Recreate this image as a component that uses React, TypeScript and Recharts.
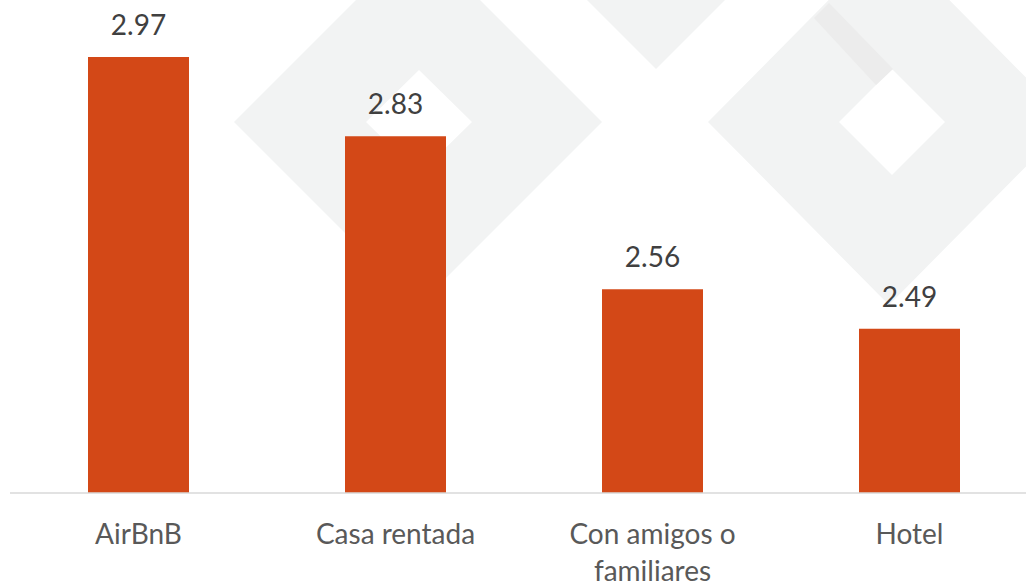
import { BarChart, Bar, XAxis, YAxis, LabelList } from 'recharts';

const categories = ['AirBnB', 'Casa rentada', 'Con amigos o familiares', 'Hotel'];
const values = [2.97, 2.83, 2.56, 2.49];
const yDomain: [number, number] = [2.2, 3.0];

const data = categories.map((name, i) => ({ name, value: values[i] }));

const FONT = 'Lato, "Open Sans", sans-serif';

// split a category into lines of at most ~14 chars
function wrap(label: string, max = 14) {
  const lines: string[] = [];
  let cur = '';
  for (const w of label.split(' ')) {
    const next = cur ? cur + ' ' + w : w;
    if (next.length > max && cur) {
      lines.push(cur);
      cur = w;
    } else {
      cur = next;
    }
  }
  if (cur) lines.push(cur);
  return lines;
}

function CategoryTick(props: any) {
  const { x, payload } = props;
  const lines = wrap(payload.value);
  return (
    <text x={x} y={544} textAnchor="middle" fill="#595959" fontSize={28} fontFamily={FONT}>
      {lines.map((l, i) => (
        <tspan key={i} x={x} dy={i === 0 ? 0 : 37}>
          {l}
        </tspan>
      ))}
    </text>
  );
}

function diamond(cx: number, cy: number, hw: number, hh: number) {
  return `M${cx - hw},${cy} L${cx},${cy - hh} L${cx + hw},${cy} L${cx},${cy + hh} Z`;
}

function Watermark() {
  return (
    <svg width={1026} height={586} style={{ position: 'absolute', left: 0, top: 0 }}>
      <path
        d={diamond(418, 122, 184, 184) + ' ' + diamond(419, 122, 53, 52)}
        fill="#f2f3f3"
        fillRule="evenodd"
      />
      <path d={diamond(656, -115, 184, 184)} fill="#f2f3f3" />
      <path
        d={diamond(889, 122, 181, 183) + ' ' + diamond(892, 122, 53, 53)}
        fill="#f2f3f3"
        fillRule="evenodd"
      />
      <polygon points="814,18 829,3 893,69 876,85" fill="#ececec" />
    </svg>
  );
}

export default function App() {
  return (
    <div
      style={{
        position: 'absolute',
        left: 0,
        top: 0,
        width: 1026,
        height: 586,
        overflow: 'hidden',
        background: '#fff',
      }}
    >
      <Watermark />
      <BarChart
        width={1038}
        height={586}
        data={data}
        margin={{ top: 40, right: 0, left: 10, bottom: 0 }}
        barSize={101}
      >
        <XAxis
          dataKey="name"
          height={93}
          axisLine={{ stroke: '#d9d9d9', strokeWidth: 1.5 }}
          tickLine={false}
          tick={<CategoryTick />}
          interval={0}
        />
        <YAxis hide domain={yDomain} allowDataOverflow />
        <Bar dataKey="value" fill="#d34817" isAnimationActive={false}>
          <LabelList
            dataKey="value"
            position="top"
            offset={22}
            fill="#404040"
            fontSize={28}
            fontFamily={FONT}
          />
        </Bar>
      </BarChart>
    </div>
  );
}
